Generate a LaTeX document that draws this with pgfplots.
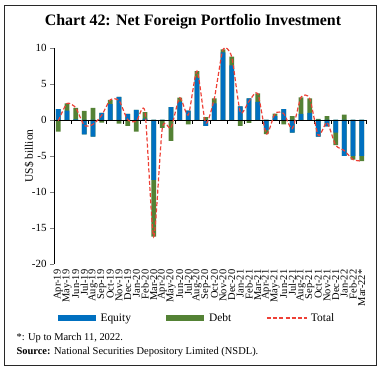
\documentclass[border=0pt]{standalone}
\usepackage{pgfplots}
\pgfplotsset{compat=1.18}
\usepackage{pgfplotstable}
\usepackage{fontspec}
\setmainfont{Liberation Serif}
\definecolor{eqblue}{RGB}{0,112,192}
\definecolor{debtgreen}{RGB}{84,130,53}
\definecolor{totred}{RGB}{238,64,54}
\definecolor{framegray}{RGB}{40,40,40}

\pgfplotstableread{
x eq debt total
0 1.5 -1.6 -0.1
1 1.3 1.0 2.3
2 0.1 1.6 1.7
3 -2.0 1.25 -0.75
4 -2.3 1.7 -0.6
5 1.0 -0.35 0.65
6 2.2 0.6 2.8
7 3.2 -0.5 2.7
8 0.85 -0.8 0.05
9 1.4 -1.6 -0.2
10 0.2 0.9 1.1
11 -8.3 -7.9 -16.2
12 -0.1 -1.0 -1.1
13 1.8 -2.9 -1.1
14 2.5 0.6 3.1
15 1.3 -0.6 0.7
16 5.9 0.9 6.8
17 -0.8 0.4 -0.4
18 2.3 0.7 3.0
19 9.4 0.4 9.8
20 7.6 1.2 8.8
21 1.9 -0.8 1.1
22 3.0 -0.4 2.6
23 2.5 1.2 3.7
24 -1.4 -0.55 -1.95
25 0.55 0.35 0.9
26 1.5 -0.6 0.9
27 -1.75 0.55 -1.2
28 0.85 2.3 3.15
29 1.0 2.0 3.0
30 -2.3 0.15 -2.15
31 -0.9 0.55 -0.35
32 -1.75 -1.75 -3.5
33 -5.0 0.75 -4.25
34 -5.0 -0.5 -5.5
35 -5.0 -0.7 -5.7
}\fpidata

\begin{document}
\begin{tikzpicture}
\useasboundingbox (0,0) rectangle (381bp,369bp);
\draw[framegray, line width=0.9bp] (4bp,3.5bp) rectangle (376bp,364bp);
\node[font=\bfseries\fontsize{16}{18}\selectfont] at (193bp,347bp) {Chart 42: Net Foreign Portfolio Investment};
\node[anchor=west, font=\fontsize{10.5}{12}\selectfont] at (13bp,31bp) {*: Up to March 11, 2022.};
\node[anchor=west, font=\fontsize{10.5}{12}\selectfont] at (13bp,17bp) {\textbf{Source:} National Securities Depository Limited (NSDL).};
\begin{axis}[
  at={(54bp,105bp)}, anchor=south west,
  scale only axis, width=312bp, height=216bp,
  xmin=-0.5, xmax=35.5, ymin=-20, ymax=10,
  axis x line*=bottom, axis y line*=left,
  x axis line style={draw=none}, y axis line style={-, line width=0.8bp},
  xtick={0,...,35},
  xticklabels={Apr-19,May-19,Jun-19,Jul-19,Aug-19,Sep-19,Oct-19,Nov-19,Dec-19,Jan-20,Feb-20,Mar-20,Apr-20,May-20,Jun-20,Jul-20,Aug-20,Sep-20,Oct-20,Nov-20,Dec-20,Jan-21,Feb-21,Mar-21,Apr-21,May-21,Jun-21,Jul-21,Aug-21,Sep-21,Oct-21,Nov-21,Dec-21,Jan-22,Feb-22,Mar-22*},
  x tick label style={rotate=90, anchor=east, font=\fontsize{10.5}{10}\selectfont, inner sep=1.5bp},
  xtick style={draw=none},
  ytick={-20,-15,...,10},
  y tick label style={font=\fontsize{11}{12}\selectfont},
  /pgf/number format/assume math mode=true,
  ytick style={line width=0.8bp},
  tick align=outside, major tick length=4bp,
  ylabel={US\$ billion},
  ylabel style={at={(axis description cs:-0.08,0.5)}, anchor=center, font=\fontsize{11.5}{12}\selectfont},
  clip=false,
  legend columns=3,
  legend style={at={(0.458,-0.25)}, anchor=center, draw=none, fill=none,
    font=\fontsize{11.5}{14}\selectfont,
    /tikz/every even column/.append style={column sep=33bp}},
  legend cell align=left,
  fpibar/.style={ybar, bar width=4.8bp, bar shift=0pt, draw=none, fill=#1, forget plot},
]
\addplot[fpibar=debtgreen] table[x=x, y expr={max(\thisrow{eq},0)+max(\thisrow{debt},0)}] {\fpidata};
\addplot[fpibar=eqblue] table[x=x, y expr={max(\thisrow{eq},0)}] {\fpidata};
\addplot[fpibar=debtgreen] table[x=x, y expr={min(\thisrow{eq},0)+min(\thisrow{debt},0)}] {\fpidata};
\addplot[fpibar=eqblue] table[x=x, y expr={min(\thisrow{eq},0)}] {\fpidata};
\draw[black, line width=0.8bp] (axis cs:-0.5,0) -- (axis cs:35.5,0);
\pgfplotsinvokeforeach{-0.5,1.5,3.5,5.5,7.5,9.5,11.5,13.5,15.5,17.5,19.5,21.5,23.5,25.5,27.5,29.5,31.5,33.5,35.5}{
  \draw[black, line width=0.8bp] (axis cs:#1,0) -- (axis cs:#1,-0.5);
}
\addplot[totred, line width=1.2bp, dash pattern=on 4bp off 2.2bp, smooth, tension=0.4, forget plot] table[x=x, y=total] {\fpidata};
\addlegendimage{legend image code/.code={\fill[eqblue, draw=none] (0bp,-2.6bp) rectangle (38bp,2.6bp); \path[draw=none, fill=none] (0bp,0bp) -- (41bp,0bp);}}
\addlegendentry{Equity}
\addlegendimage{legend image code/.code={\fill[debtgreen, draw=none] (0bp,-2.6bp) rectangle (38bp,2.6bp); \path[draw=none, fill=none] (0bp,0bp) -- (41bp,0bp);}}
\addlegendentry{Debt}
\addlegendimage{legend image code/.code={\path[draw=totred, line width=1.2bp, dash pattern=on 4bp off 2.2bp] (0bp,0bp) -- (40bp,0bp); \path[draw=none, fill=none] (0bp,0bp) -- (42bp,0bp);}}
\addlegendentry{Total}
\end{axis}
\end{tikzpicture}
\end{document}
